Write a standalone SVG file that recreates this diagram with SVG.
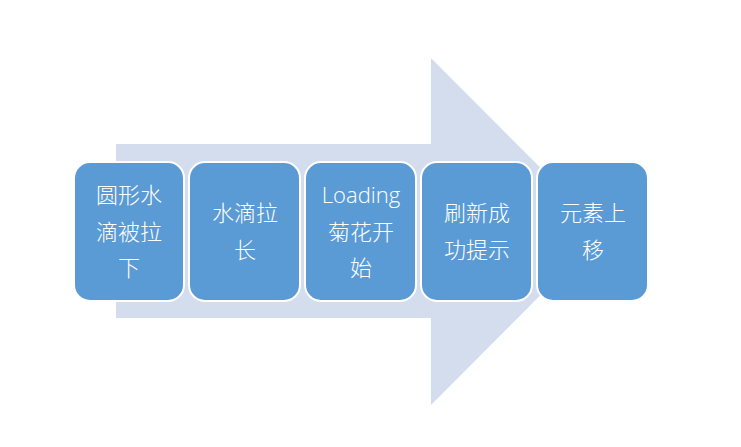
<svg xmlns="http://www.w3.org/2000/svg" width="741" height="447" viewBox="0 0 741 447">
<style>
.box{fill:#5B9BD5;stroke:#FFFFFF;stroke-width:2}
.t{fill:#FFFFFF;font-family:"Open Sans","Noto Sans CJK SC",sans-serif;font-weight:300;font-size:22px;text-anchor:middle}
</style>
<rect width="741" height="447" fill="#FFFFFF"/>
<g id="arrow">
<polygon points="116,144 431,144 431,58 604,231.5 431,405 431,318 116,318" fill="#D3DDEE"/>
</g>
<g id="connectors"></g>
<g id="n1">
<rect class="box" x="74" y="162" width="110" height="139" rx="16"/>
<text class="t" x="129" y="203">圆形水</text>
<text class="t" x="129" y="240">滴被拉</text>
<text class="t" x="129" y="276">下</text>
</g>
<g id="n2">
<rect class="box" x="189" y="162" width="111" height="139" rx="16"/>
<text class="t" x="245" y="221">水滴拉</text>
<text class="t" x="245" y="258">长</text>
</g>
<g id="n3">
<rect class="box" x="305" y="162" width="111" height="139" rx="16"/>
<text class="t" x="361" y="203">Loading</text>
<text class="t" x="361" y="240">菊花开</text>
<text class="t" x="361" y="276">始</text>
</g>
<g id="n4">
<rect class="box" x="421" y="162" width="111" height="139" rx="16"/>
<text class="t" x="477" y="221">刷新成</text>
<text class="t" x="477" y="258">功提示</text>
</g>
<g id="n5">
<rect class="box" x="537" y="162" width="111" height="139" rx="16"/>
<text class="t" x="593" y="221">元素上</text>
<text class="t" x="593" y="258">移</text>
</g>
</svg>
